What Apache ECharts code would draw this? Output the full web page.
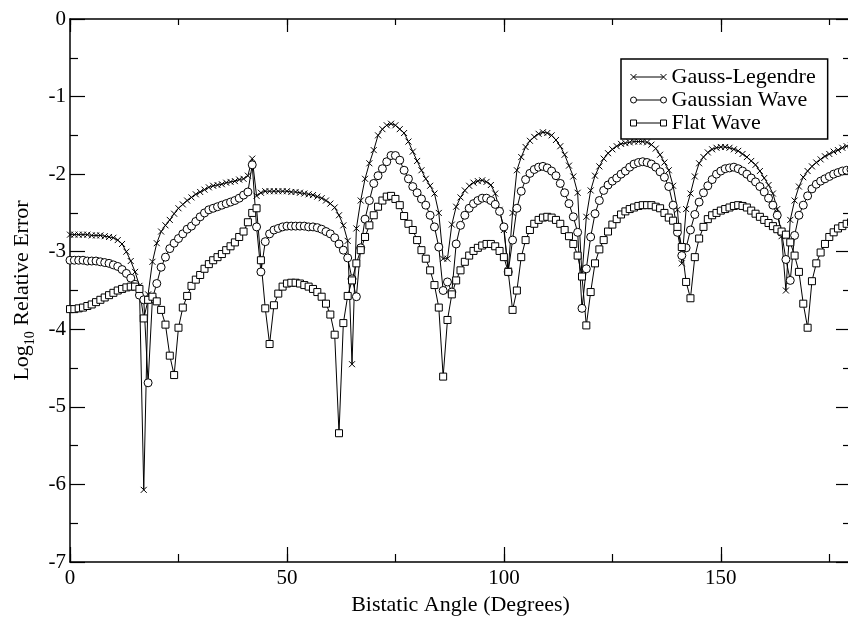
<!DOCTYPE html>
<html>
<head>
<meta charset="utf-8">
<script src="https://cdn.jsdelivr.net/npm/echarts@6/dist/echarts.min.js"></script>
<style>html,body{margin:0;padding:0;background:#fff}#c{width:848px;height:619px}</style>
</head>
<body>
<div id="c"></div>
<script>
// Bistatic angle (degrees)
const angles = [
0,1,2,3,4,5,6,7,8,9,10,11,12,13,14,15,16,17,18,19,
20,21,22,23,24,25,26,27,28,29,30,31,32,33,34,35,36,37,38,39,
40,41,42,43,44,45,46,47,48,49,50,51,52,53,54,55,56,57,58,59,
60,61,62,63,64,65,66,67,68,69,70,71,72,73,74,75,76,77,78,79,
80,81,82,83,84,85,86,87,88,89,90,91,92,93,94,95,96,97,98,99,
100,101,102,103,104,105,106,107,108,109,110,111,112,113,114,115,116,117,118,119,
120,121,122,123,124,125,126,127,128,129,130,131,132,133,134,135,136,137,138,139,
140,141,142,143,144,145,146,147,148,149,150,151,152,153,154,155,156,157,158,159,
160,161,162,163,164,165,166,167,168,169,170,171,172,173,174,175,176,177,178,179,
180];

const gaussLegendre = [
-2.78,-2.78,-2.78,-2.78,-2.78,-2.79,-2.79,-2.79,-2.80,-2.81,
-2.82,-2.85,-2.90,-3.00,-3.12,-3.26,-3.44,-6.07,-3.55,-3.13,
-2.89,-2.74,-2.66,-2.59,-2.51,-2.44,-2.39,-2.34,-2.30,-2.26,
-2.23,-2.20,-2.17,-2.15,-2.14,-2.13,-2.11,-2.10,-2.09,-2.07,
-2.06,-2.02,-1.80,-2.28,-2.24,-2.22,-2.22,-2.22,-2.22,-2.22,
-2.22,-2.23,-2.23,-2.24,-2.25,-2.26,-2.27,-2.29,-2.31,-2.34,
-2.38,-2.43,-2.53,-2.66,-2.86,-4.45,-2.70,-2.34,-2.06,-1.86,
-1.69,-1.50,-1.42,-1.37,-1.35,-1.37,-1.42,-1.47,-1.58,-1.71,
-1.83,-1.95,-2.06,-2.15,-2.25,-2.50,-3.09,-3.09,-2.65,-2.42,
-2.30,-2.21,-2.15,-2.11,-2.09,-2.08,-2.10,-2.14,-2.25,-2.46,
-2.72,-3.24,-2.50,-1.95,-1.78,-1.65,-1.57,-1.52,-1.48,-1.46,
-1.47,-1.50,-1.56,-1.64,-1.75,-1.89,-2.03,-2.24,-3.32,-2.55,
-2.21,-2.02,-1.90,-1.80,-1.73,-1.68,-1.64,-1.61,-1.60,-1.59,
-1.58,-1.58,-1.58,-1.59,-1.62,-1.67,-1.75,-1.85,-1.95,-2.15,
-2.46,-3.15,-2.45,-2.25,-2.03,-1.86,-1.78,-1.72,-1.68,-1.66,
-1.65,-1.65,-1.66,-1.68,-1.70,-1.74,-1.78,-1.83,-1.88,-1.96,
-2.05,-2.14,-2.25,-2.45,-2.80,-3.50,-2.59,-2.34,-2.16,-2.04,
-1.96,-1.90,-1.85,-1.81,-1.77,-1.74,-1.71,-1.69,-1.66,-1.64,
-1.63];

const gaussianWave = [
-3.11,-3.11,-3.11,-3.11,-3.12,-3.12,-3.12,-3.13,-3.14,-3.15,
-3.17,-3.19,-3.23,-3.28,-3.34,-3.42,-3.56,-3.62,-4.69,-3.60,
-3.41,-3.20,-3.07,-2.96,-2.89,-2.83,-2.77,-2.71,-2.67,-2.61,
-2.55,-2.50,-2.46,-2.44,-2.42,-2.40,-2.38,-2.36,-2.34,-2.31,
-2.27,-2.23,-1.88,-2.68,-3.26,-2.87,-2.77,-2.72,-2.70,-2.68,
-2.67,-2.67,-2.67,-2.67,-2.67,-2.68,-2.68,-2.69,-2.71,-2.74,
-2.77,-2.82,-2.90,-2.98,-3.08,-3.35,-3.58,-2.95,-2.58,-2.34,
-2.12,-2.02,-1.93,-1.84,-1.76,-1.76,-1.82,-1.95,-2.06,-2.16,
-2.24,-2.32,-2.40,-2.53,-2.68,-2.94,-3.50,-3.39,-3.52,-2.90,
-2.66,-2.53,-2.44,-2.38,-2.34,-2.31,-2.31,-2.34,-2.39,-2.48,
-2.68,-3.26,-2.85,-2.44,-2.22,-2.07,-1.99,-1.94,-1.91,-1.90,
-1.92,-1.96,-2.02,-2.12,-2.24,-2.38,-2.55,-2.75,-3.73,-3.22,
-2.81,-2.51,-2.34,-2.21,-2.14,-2.09,-2.05,-2.00,-1.96,-1.91,
-1.87,-1.85,-1.84,-1.85,-1.87,-1.91,-1.97,-2.04,-2.16,-2.40,
-2.75,-3.05,-2.95,-2.72,-2.52,-2.36,-2.24,-2.15,-2.07,-2.00,
-1.96,-1.93,-1.92,-1.91,-1.93,-1.96,-2.00,-2.05,-2.10,-2.16,
-2.23,-2.31,-2.40,-2.53,-2.75,-3.10,-3.37,-2.79,-2.53,-2.40,
-2.28,-2.19,-2.13,-2.09,-2.06,-2.03,-2.00,-1.98,-1.96,-1.95,
-1.94];

const flatWave = [
-3.74,-3.74,-3.73,-3.72,-3.70,-3.68,-3.65,-3.62,-3.59,-3.56,
-3.53,-3.50,-3.48,-3.46,-3.45,-3.45,-3.48,-3.86,-3.62,-3.58,
-3.64,-3.75,-3.94,-4.34,-4.59,-3.98,-3.72,-3.57,-3.44,-3.36,
-3.30,-3.22,-3.16,-3.11,-3.07,-3.03,-2.98,-2.93,-2.88,-2.81,
-2.74,-2.62,-2.50,-2.44,-3.11,-3.73,-4.19,-3.69,-3.54,-3.45,
-3.41,-3.40,-3.40,-3.41,-3.43,-3.45,-3.48,-3.52,-3.58,-3.67,
-3.81,-4.07,-5.34,-3.92,-3.57,-3.37,-3.15,-2.98,-2.81,-2.66,
-2.53,-2.42,-2.34,-2.29,-2.28,-2.32,-2.40,-2.54,-2.64,-2.72,
-2.85,-2.98,-3.09,-3.24,-3.43,-3.72,-4.61,-3.88,-3.55,-3.37,
-3.24,-3.13,-3.05,-2.99,-2.95,-2.92,-2.90,-2.90,-2.93,-2.99,
-3.07,-3.26,-3.75,-3.50,-3.07,-2.85,-2.72,-2.64,-2.59,-2.56,
-2.55,-2.56,-2.59,-2.64,-2.72,-2.80,-2.90,-3.05,-3.32,-3.95,
-3.52,-3.15,-2.97,-2.85,-2.74,-2.65,-2.58,-2.52,-2.48,-2.45,
-2.43,-2.41,-2.40,-2.40,-2.40,-2.42,-2.44,-2.50,-2.56,-2.60,
-2.68,-2.94,-3.39,-3.60,-3.07,-2.83,-2.68,-2.58,-2.53,-2.50,
-2.47,-2.45,-2.43,-2.41,-2.40,-2.41,-2.43,-2.47,-2.51,-2.55,
-2.59,-2.63,-2.67,-2.71,-2.74,-2.78,-2.88,-3.05,-3.26,-3.67,
-3.98,-3.38,-3.15,-3.01,-2.90,-2.81,-2.75,-2.70,-2.67,-2.64,
-2.62];

const seriesNames = ['Gauss-Legendre', 'Gaussian Wave', 'Flat Wave'];
const xTickLabels = [0, 50, 100, 150];

const FONT = 'Liberation Serif';
const BLACK = '#000';
const pairs = ys => angles.map((a, i) => [a, ys[i]]);

const lineAx = {show: true, onZero: false, lineStyle: {color: BLACK, width: 1.5}};
const tickStyle = {color: BLACK, width: 1.2};

function xAx(position, interval, len, withLine, withLabel) {
  const ax = {
    type: 'value', position: position, min: 0, max: 180, interval: interval,
    axisLine: withLine ? lineAx : {show: false, onZero: false},
    axisTick: {show: true, inside: true, length: len, lineStyle: tickStyle},
    splitLine: {show: false},
    axisLabel: {show: false}
  };
  if (withLabel) {
    ax.axisLabel = {
      show: true, showMaxLabel: false, color: BLACK, fontFamily: FONT, fontSize: 21, margin: 6,
      formatter: v => (xTickLabels.indexOf(v) >= 0 ? String(v) : '')
    };
    ax.name = 'Bistatic Angle (Degrees)';
    ax.nameLocation = 'middle';
    ax.nameGap = 29;
    ax.nameTextStyle = {color: BLACK, fontFamily: FONT, fontSize: 22};
  }
  return ax;
}

function yAx(position, withLabel) {
  const ax = {
    type: 'value', position: position, min: -7, max: 0, interval: 1,
    axisLine: lineAx,
    axisTick: {show: true, inside: true, length: 15, lineStyle: tickStyle},
    minorTick: {show: true, splitNumber: 2, length: 8, lineStyle: tickStyle},
    splitLine: {show: false},
    axisLabel: {show: false}
  };
  if (withLabel) {
    ax.axisLabel = {show: true, color: BLACK, fontFamily: FONT, fontSize: 21, margin: 4, padding: [7, 0, 0, 0]};
    ax.name = '{m|Log}{sub|10}{m| Relative Error}';
    ax.nameLocation = 'middle';
    ax.nameGap = 26;
    ax.nameTextStyle = {
      color: BLACK, fontFamily: FONT, fontSize: 22,
      rich: {
        m: {fontFamily: FONT, fontSize: 22, color: BLACK, lineHeight: 30, verticalAlign: 'middle'},
        sub: {fontFamily: FONT, fontSize: 14, color: BLACK, verticalAlign: 'bottom'}
      }
    };
  }
  return ax;
}

const symX = 'path://M0,0L10,10M10,0L0,10';
const iconX = 'path://M0,2L6,8M6,2L0,8M3,5L33,5M30,2L36,8M36,2L30,8';
const iconO = 'path://M0,5A3,3 0 1,0 6,5A3,3 0 1,0 0,5M6,5L30,5M30,5A3,3 0 1,0 36,5A3,3 0 1,0 30,5';
const iconS = 'path://M0,2L6,2L6,8L0,8ZM6,5L30,5M30,2L36,2L36,8L30,8Z';

function mkSeries(name, ys, symbol, size, fill) {
  return {
    name: name, type: 'line', xAxisIndex: 0, yAxisIndex: 0,
    data: pairs(ys), symbol: symbol, symbolSize: size,
    showSymbol: true, showAllSymbol: true, silent: true,
    lineStyle: {color: BLACK, width: 1},
    itemStyle: {color: fill, borderColor: BLACK, borderWidth: 1},
    emphasis: {disabled: true}
  };
}

const legendIconStyle = {color: 'rgba(0,0,0,0)', borderColor: BLACK, borderWidth: 1};

const option = {
  animation: false,
  backgroundColor: '#fff',
  grid: {left: 70, top: 19, width: 781, height: 543, containLabel: false, outerBoundsMode: 'none'},
  xAxis: [
    xAx('bottom', 25, 8, true, true),
    xAx('bottom', 50, 15, false, false),
    xAx('top', 25, 6, true, false),
    xAx('top', 50, 13, false, false)
  ],
  yAxis: [yAx('left', true), yAx('right', false)],
  legend: {
    orient: 'vertical', left: 621, top: 59,
    padding: [7, 12, 5, 9], itemGap: 1, itemWidth: 36, itemHeight: 6,
    backgroundColor: '#fff', borderColor: BLACK, borderWidth: 1.5, borderRadius: 0,
    selectedMode: false,
    textStyle: {color: BLACK, fontFamily: FONT, fontSize: 22},
    data: [
      {name: seriesNames[0], icon: iconX, itemStyle: legendIconStyle},
      {name: seriesNames[1], icon: iconO, itemStyle: legendIconStyle},
      {name: seriesNames[2], icon: iconS, itemStyle: legendIconStyle}
    ]
  },
  series: [
    mkSeries(seriesNames[0], gaussLegendre, symX, 6, 'rgba(0,0,0,0)'),
    mkSeries(seriesNames[1], gaussianWave, 'circle', 8, '#fff'),
    mkSeries(seriesNames[2], flatWave, 'rect', 7, '#fff')
  ]
};

const chart = echarts.init(document.getElementById('c'), null, {renderer: 'canvas'});
chart.setOption(option);
</script>
</body>
</html>
